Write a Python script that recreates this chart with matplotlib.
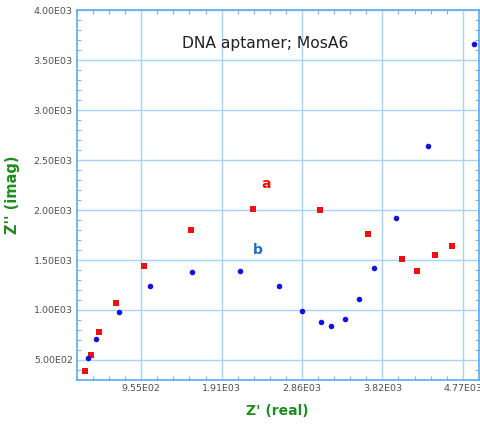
import matplotlib
matplotlib.use("Agg")
import matplotlib.pyplot as plt
from matplotlib.ticker import FixedLocator, MultipleLocator

# Series a (red squares) and b (blue dots), Z' / Z'' in ohms
a_real = [282, 357, 449, 658, 987, 1549, 2286, 3079, 3653, 4053, 4232, 4442, 4644]
a_imag = [390, 553, 780, 1070, 1440, 1800, 2010, 1997, 1757, 1513, 1393, 1547, 1643]

b_real = [318, 417, 686, 1062, 1561, 2125, 2588, 2868, 3087, 3213, 3380, 3539,
          3717, 3979, 4359, 4909]
b_imag = [520, 707, 977, 1243, 1377, 1390, 1240, 993, 877, 843, 913, 1110,
          1423, 1917, 2643, 3660]

x_ticks = [955, 1910, 2865, 3820, 4775]
x_labels = ["9.55E02", "1.91E03", "2.86E03", "3.82E03", "4.77E03"]
y_ticks = [500, 1000, 1500, 2000, 2500, 3000, 3500, 4000]
y_labels = ["5.00E02", "1.00E03", "1.50E03", "2.00E03", "2.50E03",
            "3.00E03", "3.50E03", "4.00E03"]

spine_col = "#5aaaf5"
grid_col = "#a8d2fa"
green = "#1e8c1e"

fig = plt.figure(figsize=(4.81, 4.25), dpi=100)
ax = fig.add_axes([0.160, 0.106, 0.835, 0.870])

ax.plot(a_real, a_imag, "s", color="#f01010", markersize=4.3, markeredgewidth=0, zorder=3)
ax.plot(b_real, b_imag, "o", color="#1010e8", markersize=4.0, markeredgewidth=0, zorder=3)

ax.set_xlim(191, 4963)
ax.set_ylim(300, 4000)

ax.xaxis.set_major_locator(FixedLocator(x_ticks))
ax.set_xticklabels(x_labels)
ax.yaxis.set_major_locator(FixedLocator(y_ticks))
ax.set_yticklabels(y_labels)
ax.xaxis.set_minor_locator(MultipleLocator(191))
ax.yaxis.set_minor_locator(MultipleLocator(100))

ax.grid(True, which="major", color=grid_col, linewidth=1.0)
ax.set_axisbelow(True)

for s in ax.spines.values():
    s.set_color(spine_col)
    s.set_linewidth(1.2)

ax.tick_params(which="both", direction="in", top=True, right=True,
               color=spine_col, labelsize=6.8, labelcolor="#505050", pad=3)
ax.tick_params(which="major", length=0)
ax.tick_params(which="minor", length=3)

# annotations
ax.text(0.469, 0.911, "DNA aptamer; MosA6", transform=ax.transAxes,
        ha="center", va="center", fontsize=11.2, color="#202020")
ax.text(2437, 2260, "a", color="#f01010", fontsize=10, fontweight="bold",
        ha="center", va="center")
ax.text(2342, 1600, "b", color="#1a6fc8", fontsize=10, fontweight="bold",
        ha="center", va="center")

ax.set_xlabel("Z' (real)", color=green, fontsize=10, fontweight="bold", labelpad=8)
ax.set_ylabel("Z'' (imag)", color=green, fontsize=10.5, fontweight="bold", labelpad=10)

fig.savefig("out.png", dpi=100)
